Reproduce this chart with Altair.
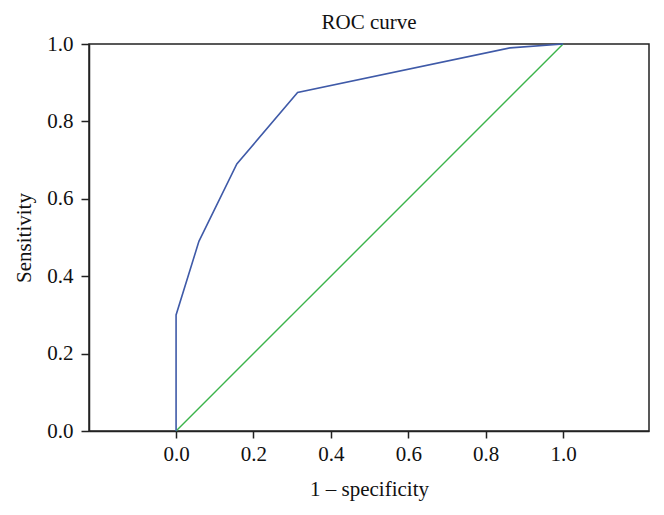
import altair as alt
import pandas as pd

fpr = [0.0, 0.0, 0.059, 0.157, 0.314, 0.863, 1.0]
tpr = [0.0, 0.30, 0.49, 0.69, 0.875, 0.99, 1.0]
ref_x = [0.0, 1.0]
ref_y = [0.0, 1.0]
ticks = [0.0, 0.2, 0.4, 0.6, 0.8, 1.0]

roc = pd.DataFrame({"fpr": fpr, "tpr": tpr, "order": list(range(len(fpr)))})
diag = pd.DataFrame({"fpr": ref_x, "tpr": ref_y, "order": [0, 1]})

FONT = "Liberation Serif"

x_enc = alt.X(
    "fpr:Q",
    scale=alt.Scale(domain=[-0.225, 1.222], nice=False, zero=False),
    axis=alt.Axis(
        values=ticks, format=".1f", title="1 – specificity", grid=False,
        tickSize=7, labelPadding=5, titlePadding=14,
    ),
)
y_enc = alt.Y(
    "tpr:Q",
    scale=alt.Scale(domain=[0, 1], nice=False),
    axis=alt.Axis(
        values=ticks, format=".1f", title="Sensitivity", grid=False,
        tickSize=8, labelPadding=8, titlePadding=12,
    ),
)

diag_line = alt.Chart(diag).mark_line(color="#3cb44b", strokeWidth=1.4).encode(
    x=x_enc, y=y_enc, order="order:Q"
)
roc_line = alt.Chart(roc).mark_line(color="#3f5aa8", strokeWidth=1.6).encode(
    x=x_enc, y=y_enc, order="order:Q"
)

chart = (
    alt.layer(diag_line, roc_line)
    .properties(
        width=560,
        height=387,
        title=alt.TitleParams("ROC curve", font=FONT, fontSize=21, fontWeight="normal",
                              color="#111", offset=8, dy=8),
        autosize=alt.AutoSizeParams(type="none"),
        padding={"left": 81, "top": 36, "right": 7, "bottom": 76},
    )
    .configure_view(stroke="#222", strokeWidth=1.5)
    .configure_axis(
        labelFont=FONT, titleFont=FONT, labelFontSize=21, titleFontSize=21,
        titleFontWeight="normal", labelColor="#111", titleColor="#111",
        domainColor="#222", tickColor="#222", domainWidth=1.5, tickWidth=1.5,
    )
)

chart.save("out.html", embed_options={"renderer": "svg", "actions": False})
